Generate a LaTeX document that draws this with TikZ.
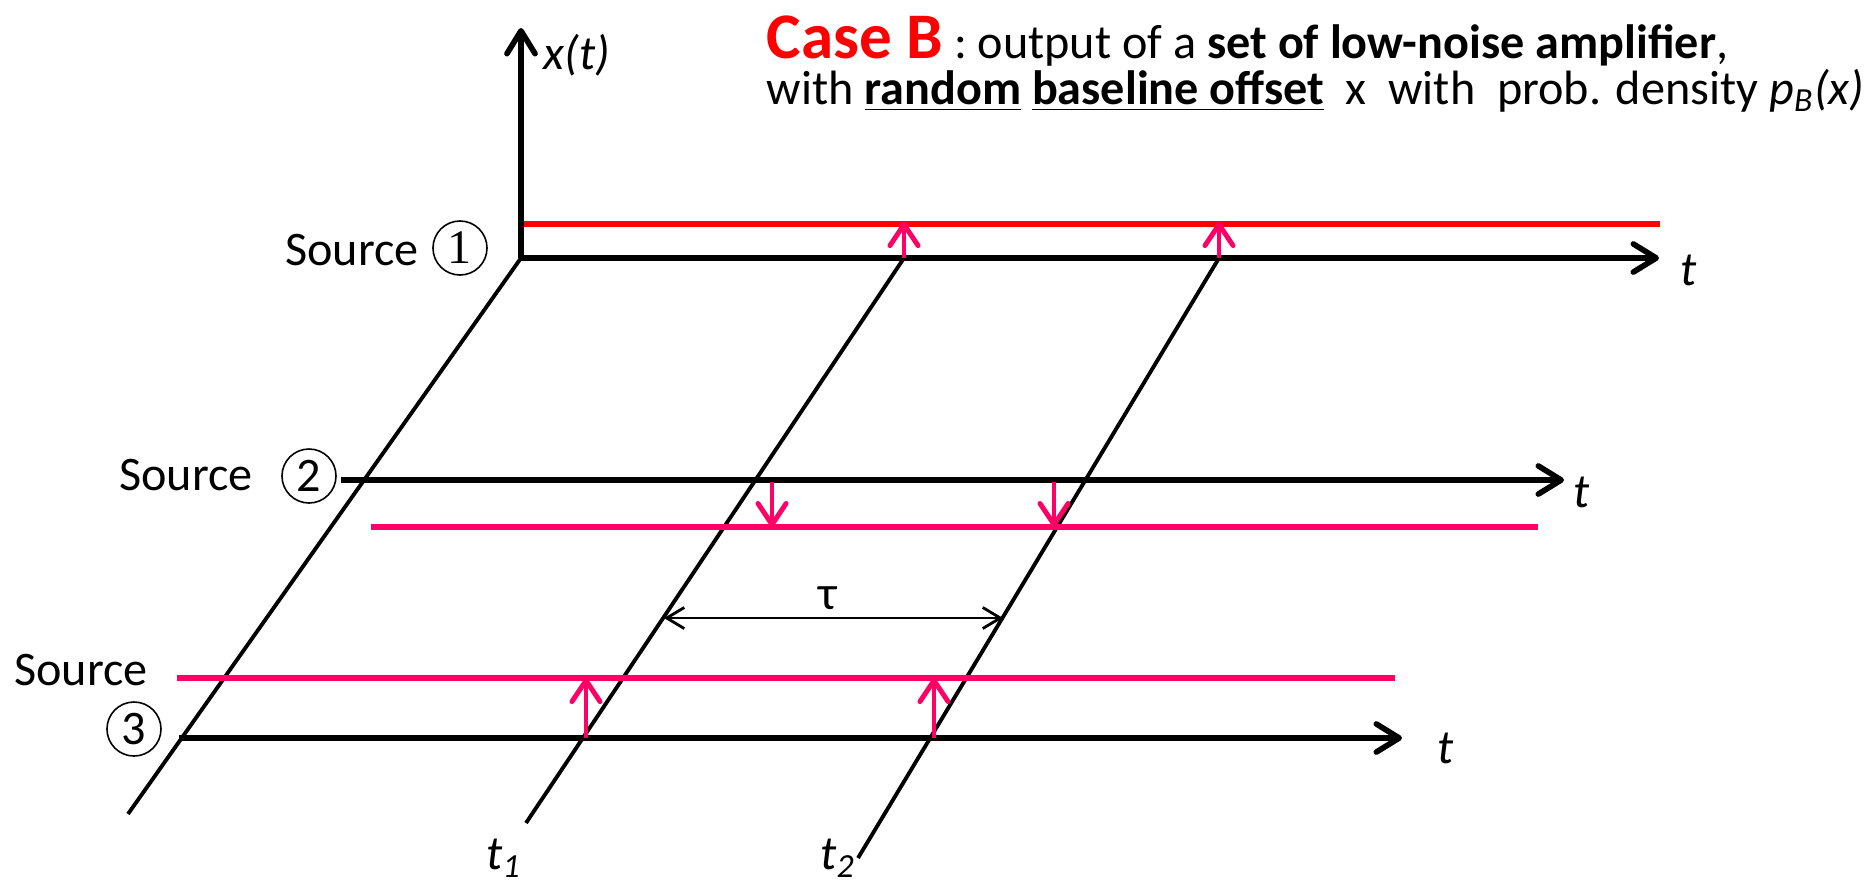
\documentclass[tikz,border=0pt]{standalone}
\usepackage{fontspec}
\setmainfont{Carlito}
\newfontfamily\numserif{Liberation Serif}
\usepackage{tikz}
\usetikzlibrary{arrows.meta,positioning}
\definecolor{sigred}{HTML}{FF0000}
\definecolor{sigpink}{HTML}{FF0066}
\newcommand{\lblfont}{\fontsize{13.7}{16}\selectfont}
\newcommand{\casefont}{\fontsize{18.5}{22}\selectfont}
\tikzset{
  timeaxis/.style={
    line width=1.6pt, -{Straight Barb[length=6.5pt,width=8pt,round]}
  },
  slantline/.style={line width=1.1pt},
  offsetline/.style={line width=1.6pt, draw=#1},
  offsetline/.default=sigpink,
  jumparrow/.style={
    line width=1.4pt, draw=sigpink, -{Straight Barb[length=6pt,width=8pt,round]}
  },
  delayarrow/.style={
    line width=0.8pt,
    {Straight Barb[length=5pt,width=6pt]}-{Straight Barb[length=5pt,width=6pt]}
  },
  srclabel/.style={font=\lblfont, inner sep=0pt},
  circnum/.style={circle, draw, line width=0.45pt, minimum size=0.54cm,
    inner sep=0pt, font=\lblfont},
  axislabel/.style={font=\lblfont\itshape, inner sep=0pt},
}

\begin{document}
\begin{tikzpicture}[x=0.01cm, y=-0.01cm]
  \useasboundingbox (0,0) rectangle (1876,881);

  % Title
  \node[anchor=base west, inner sep=0pt, font=\lblfont] (head1) at (766,58)
    {{\casefont\bfseries\color{sigred}Case B} : output of a \textbf{set of low-noise amplifier},};
  \node[anchor=base west, inner sep=0pt, font=\lblfont] (head2) at (766,104)
    {with \textbf{\underline{random}} \textbf{\underline{baseline offset}} \ x \ with \ prob. density \textit{p\textsubscript{B}(x)}};

  % Points
  \coordinate (o1) at (521,258);
  \coordinate (ytop) at (521,28);
  \coordinate (e1) at (1659,258);
  \coordinate (r1a) at (521,224);
  \coordinate (r1b) at (1660,224);
  \coordinate (o2) at (341,480);
  \coordinate (e2) at (1564,480);
  \coordinate (r2a) at (371,527);
  \coordinate (r2b) at (1538,527);
  \coordinate (o3) at (179,738);
  \coordinate (e3) at (1402,738);
  \coordinate (r3a) at (177,678);
  \coordinate (r3b) at (1395,678);
  \coordinate (s0) at (128,814);
  \coordinate (p1) at (904,258);
  \coordinate (s1) at (526,823);
  \coordinate (p2) at (1219,258);
  \coordinate (s2) at (858,858);

  % Slanted time lines
  \draw[slantline] (o1) -- (s0);
  \draw[slantline] (p1) -- (s1);
  \draw[slantline] (p2) -- (s2);

  % Offset levels
  \draw[offsetline=sigred] (r1a) -- (r1b);
  \draw[offsetline] (r2a) -- (r2b);
  \draw[offsetline] (r3a) -- (r3b);

  % Axes
  \draw[timeaxis] (o1) -- (ytop);
  \draw[timeaxis] (o1) -- (e1);
  \draw[timeaxis] (o2) -- (e2);
  \draw[timeaxis] (o3) -- (e3);

  % Offset jumps
  \coordinate (j1a) at (904,222);
  \coordinate (j1b) at (1219,222);
  \draw[jumparrow] (p1) -- (j1a);
  \draw[jumparrow] (p2) -- (j1b);
  \coordinate (k1) at (772,482);  \coordinate (k1e) at (772,527);
  \coordinate (k2) at (1054,482); \coordinate (k2e) at (1054,527);
  \draw[jumparrow] (k1) -- (k1e);
  \draw[jumparrow] (k2) -- (k2e);
  \coordinate (m1) at (586,738);  \coordinate (m1e) at (586,678);
  \coordinate (m2) at (934,738);  \coordinate (m2e) at (934,678);
  \draw[jumparrow] (m1) -- (m1e);
  \draw[jumparrow] (m2) -- (m2e);

  % Delay
  \coordinate (d1) at (664,618);
  \coordinate (d2) at (1003,618);
  \draw[delayarrow] (d1) -- (d2);
  \node[font=\lblfont, inner sep=0pt] (tau) at (828,598) {τ};

  % Labels
  \node[axislabel] (xlab) at (577,55) {x(t)};
  \node[axislabel] (tl1) at (1689,270) {t};
  \node[axislabel] (tl2) at (1582,492) {t};
  \node[axislabel] (tl3) at (1446,748) {t};
  \node[axislabel] (t1lab) at (504,858) {t\textsubscript{1}};
  \node[axislabel] (t2lab) at (838,858) {t\textsubscript{2}};

  \node[srclabel] (src1) at (352,250) {Source};
  \node[circnum, font=\lblfont\numserif] (n1) at (460,248) {1};
  \node[srclabel] (src2) at (186,475) {Source};
  \node[circnum] (n2) at (309,476) {2};
  \node[srclabel] (src3) at (81,670) {Source};
  \node[circnum] (n3) at (134,729) {3};
\end{tikzpicture}
\end{document}
